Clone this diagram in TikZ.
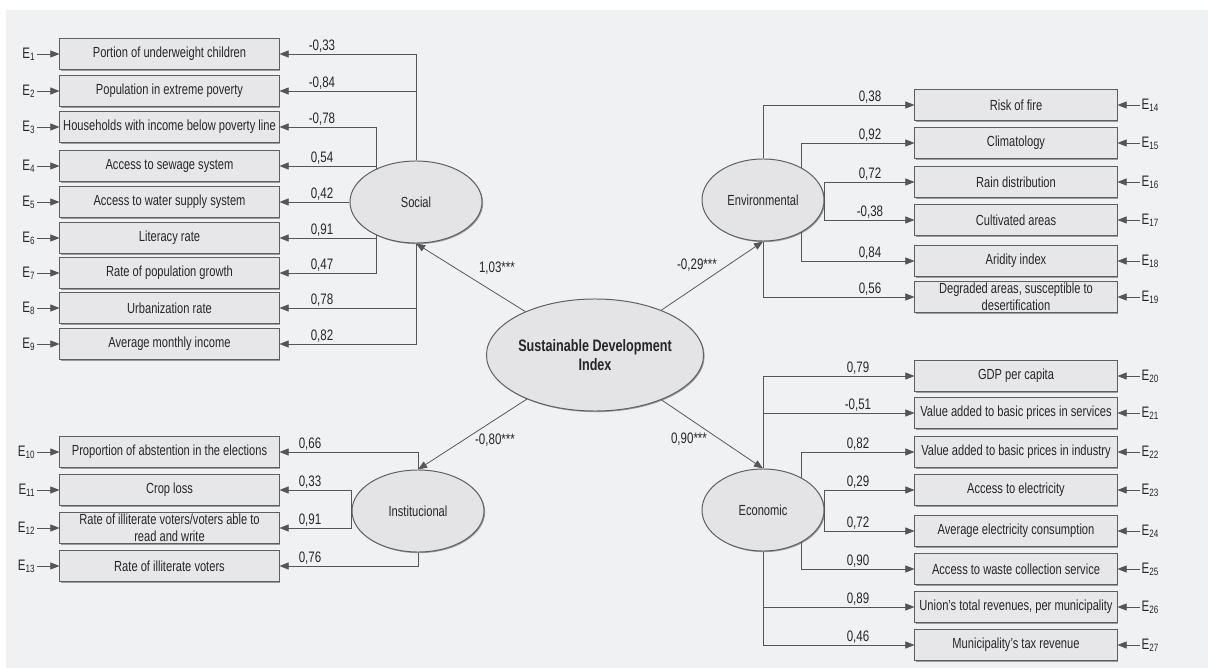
\documentclass[tikz,border=0pt]{standalone}
\usepackage{fontspec}
\setmainfont[FakeStretch=0.76]{Liberation Sans}
\usepackage{xcolor}
\usetikzlibrary{arrows.meta,shapes.geometric,shadows}

\definecolor{panel}{RGB}{240,241,243}
\definecolor{boxfill}{RGB}{231,231,233}
\definecolor{ellfill}{RGB}{228,228,230}
\definecolor{boxline}{RGB}{95,95,97}
\definecolor{linkcol}{RGB}{85,85,87}
\definecolor{ink}{RGB}{38,38,40}

\begin{document}
\begin{tikzpicture}[x=0.025cm, y=-0.025cm,
    >={Triangle[length=6.5pt, width=5pt]},
    indicator/.style={draw=boxline, fill=boxfill, line width=0.7pt, minimum height=0.78cm,
        inner xsep=2pt, inner ysep=0.5pt, align=center, text=ink,
        font=\fontsize{10.4}{12}\selectfont,
        drop shadow={shadow xshift=0.8pt, shadow yshift=-0.8pt, fill=black, opacity=0.35}},
    indL/.style={indicator, minimum width=5.475cm},
    indR/.style={indicator, minimum width=5.05cm},
    factor/.style={ellipse, draw=boxline, fill=ellfill, line width=0.7pt, inner sep=0pt,
        minimum height=2.05cm, text=ink, font=\fontsize{10.4}{12}\selectfont,
        drop shadow={shadow xshift=0.8pt, shadow yshift=-0.8pt, fill=black, opacity=0.35}},
    link/.style={->, draw=linkcol, line width=0.55pt},
    loading/.style={anchor=south, inner sep=1pt, text=ink, font=\fontsize{10.8}{12}\selectfont},
    errL/.style={anchor=east, inner sep=1pt, text=ink, font=\fontsize{10.8}{12}\selectfont},
    errR/.style={anchor=west, inner sep=1pt, text=ink, font=\fontsize{10.8}{12}\selectfont}
]

    % Background
    \useasboundingbox (0,0) rectangle (1208,668);
    \fill[white] (0,0) rectangle (1208,668);
    \fill[panel] (6,10) rectangle (1208,668);

    % Sustainable Development Index
    \node[factor, minimum width=5.33cm, minimum height=2.8cm, align=center,
          font=\fontsize{11.8}{14}\selectfont\bfseries] (sdi) at (595,355) {Sustainable Development\\Index};

    % Latent factors
    \node[factor, minimum width=3.3cm] (social) at (416,202) {Social};
    \node[factor, minimum width=3.3cm] (inst) at (418,511) {Institucional};
    \node[factor, minimum width=3.05cm] (env) at (763,200) {Environmental};
    \node[factor, minimum width=3.05cm] (econ) at (763,510) {Economic};

    % Second order loadings
    \draw[link] (sdi) -- (social.south);
    \draw[link] (sdi) -- (env.south);
    \draw[link] (sdi) -- (inst.north);
    \draw[link] (sdi) -- (econ.north);
    \node[loading, anchor=center] (g1) at (497,268) {1,03***};
    \node[loading, anchor=center] (g2) at (697,265) {-0,29***};
    \node[loading, anchor=center] (g3) at (495,440) {-0,80***};
    \node[loading, anchor=center] (g4) at (689,439) {0,90***};

    % Social indicators
    \node[indL] (b1) at (169.5,54) {Portion of underweight children};
    \node[indL] (b2) at (169.5,91) {Population in extreme poverty};
    \node[indL] (b3) at (169.5,127) {Households with income below poverty line};
    \node[indL] (b4) at (169.5,166) {Access to sewage system};
    \node[indL] (b5) at (169.5,202) {Access to water supply system};
    \node[indL] (b6) at (169.5,238) {Literacy rate};
    \node[indL] (b7) at (169.5,273) {Rate of population growth};
    \node[indL] (b8) at (169.5,308) {Urbanization rate};
    \node[indL] (b9) at (169.5,344) {Average monthly income};

    \draw[link] (social.north) |- (b1.east);
    \draw[link] (social.north) |- (b2.east);
    \draw[link] (social.140) |- (b3.east);
    \draw[link] (social.140) |- (b4.east);
    \draw[link] (social.west) -- (b5.east);
    \draw[link] (social.220) |- (b6.east);
    \draw[link] (social.220) |- (b7.east);
    \draw[link] (social.south) |- (b8.east);
    \draw[link] (social.south) |- (b9.east);

    \node[loading] (w1) at (322,54) {-0,33};
    \node[loading] (w2) at (322,91) {-0,84};
    \node[loading] (w3) at (322,127) {-0,78};
    \node[loading] (w4) at (322,166) {0,54};
    \node[loading] (w5) at (322,202) {0,42};
    \node[loading] (w6) at (322,238) {0,91};
    \node[loading] (w7) at (322,273) {0,47};
    \node[loading] (w8) at (322,308) {0,78};
    \node[loading] (w9) at (322,344) {0,82};

    % Institutional indicators
    \node[indL] (b10) at (169.5,452) {Proportion of abstention in the elections};
    \node[indL] (b11) at (169.5,490) {Crop loss};
    \node[indL] (b12) at (169.5,528) {Rate of illiterate voters/voters able to\\read and write};
    \node[indL] (b13) at (169.5,566) {Rate of illiterate voters};

    \draw[link] (inst.north) |- (b10.east);
    \draw[link] (inst.west) |- (b11.east);
    \draw[link] (inst.west) |- (b12.east);
    \draw[link] (inst.south) |- (b13.east);

    \node[loading] (w10) at (310,452) {0,66};
    \node[loading] (w11) at (310,490) {0,33};
    \node[loading] (w12) at (310,528) {0,91};
    \node[loading] (w13) at (310,566) {0,76};

    % Environmental indicators
    \node[indR] (b14) at (1016,105) {Risk of fire};
    \node[indR] (b15) at (1016,143) {Climatology};
    \node[indR] (b16) at (1016,182) {Rain distribution};
    \node[indR] (b17) at (1016,220) {Cultivated areas};
    \node[indR] (b18) at (1016,261) {Aridity index};
    \node[indR] (b19) at (1016,297) {Degraded areas, susceptible to\\desertification};

    \draw[link] (env.north) |- (b14.west);
    \draw[link] (env.40) |- (b15.west);
    \draw[link] (env.east) |- (b16.west);
    \draw[link] (env.east) |- (b17.west);
    \draw[link] (env.-40) |- (b18.west);
    \draw[link] (env.south) |- (b19.west);

    \node[loading] (w14) at (870,105) {0,38};
    \node[loading] (w15) at (870,143) {0,92};
    \node[loading] (w16) at (870,182) {0,72};
    \node[loading] (w17) at (870,220) {-0,38};
    \node[loading] (w18) at (870,261) {0,84};
    \node[loading] (w19) at (870,297) {0,56};

    % Economic indicators
    \node[indR] (b20) at (1016,376) {GDP per capita};
    \node[indR] (b21) at (1016,413) {Value added to basic prices in services};
    \node[indR] (b22) at (1016,452) {Value added to basic prices in industry};
    \node[indR] (b23) at (1016,490) {Access to electricity};
    \node[indR] (b24) at (1016,531) {Average electricity consumption};
    \node[indR] (b25) at (1016,569) {Access to waste collection service};
    \node[indR] (b26) at (1016,607) {Union's total revenues, per municipality};
    \node[indR] (b27) at (1016,645) {Municipality's tax revenue};

    \draw[link] (econ.north) |- (b20.west);
    \draw[link] (econ.north) |- (b21.west);
    \draw[link] (econ.40) |- (b22.west);
    \draw[link] (econ.east) |- (b23.west);
    \draw[link] (econ.east) |- (b24.west);
    \draw[link] (econ.-40) |- (b25.west);
    \draw[link] (econ.south) |- (b26.west);
    \draw[link] (econ.south) |- (b27.west);

    \node[loading] (w20) at (858,376) {0,79};
    \node[loading] (w21) at (858,413) {-0,51};
    \node[loading] (w22) at (858,452) {0,82};
    \node[loading] (w23) at (858,490) {0,29};
    \node[loading] (w24) at (858,531) {0,72};
    \node[loading] (w25) at (858,569) {0,90};
    \node[loading] (w26) at (858,607) {0,89};
    \node[loading] (w27) at (858,645) {0,46};

    % Error terms, left
    \node[errL] (e1) at (37,54) {E\textsubscript{1}};
    \node[errL] (e2) at (37,91) {E\textsubscript{2}};
    \node[errL] (e3) at (37,127) {E\textsubscript{3}};
    \node[errL] (e4) at (37,166) {E\textsubscript{4}};
    \node[errL] (e5) at (37,202) {E\textsubscript{5}};
    \node[errL] (e6) at (37,238) {E\textsubscript{6}};
    \node[errL] (e7) at (37,273) {E\textsubscript{7}};
    \node[errL] (e8) at (37,308) {E\textsubscript{8}};
    \node[errL] (e9) at (37,344) {E\textsubscript{9}};
    \node[errL] (e10) at (37,452) {E\textsubscript{10}};
    \node[errL] (e11) at (37,490) {E\textsubscript{11}};
    \node[errL] (e12) at (37,528) {E\textsubscript{12}};
    \node[errL] (e13) at (37,566) {E\textsubscript{13}};
    \draw[link] (e1) -- (b1);
    \draw[link] (e2) -- (b2);
    \draw[link] (e3) -- (b3);
    \draw[link] (e4) -- (b4);
    \draw[link] (e5) -- (b5);
    \draw[link] (e6) -- (b6);
    \draw[link] (e7) -- (b7);
    \draw[link] (e8) -- (b8);
    \draw[link] (e9) -- (b9);
    \draw[link] (e10) -- (b10);
    \draw[link] (e11) -- (b11);
    \draw[link] (e12) -- (b12);
    \draw[link] (e13) -- (b13);

    % Error terms, right
    \node[errR] (e14) at (1140,105) {E\textsubscript{14}};
    \node[errR] (e15) at (1140,143) {E\textsubscript{15}};
    \node[errR] (e16) at (1140,182) {E\textsubscript{16}};
    \node[errR] (e17) at (1140,220) {E\textsubscript{17}};
    \node[errR] (e18) at (1140,261) {E\textsubscript{18}};
    \node[errR] (e19) at (1140,297) {E\textsubscript{19}};
    \node[errR] (e20) at (1140,376) {E\textsubscript{20}};
    \node[errR] (e21) at (1140,413) {E\textsubscript{21}};
    \node[errR] (e22) at (1140,452) {E\textsubscript{22}};
    \node[errR] (e23) at (1140,490) {E\textsubscript{23}};
    \node[errR] (e24) at (1140,531) {E\textsubscript{24}};
    \node[errR] (e25) at (1140,569) {E\textsubscript{25}};
    \node[errR] (e26) at (1140,607) {E\textsubscript{26}};
    \node[errR] (e27) at (1140,645) {E\textsubscript{27}};
    \draw[link] (e14) -- (b14);
    \draw[link] (e15) -- (b15);
    \draw[link] (e16) -- (b16);
    \draw[link] (e17) -- (b17);
    \draw[link] (e18) -- (b18);
    \draw[link] (e19) -- (b19);
    \draw[link] (e20) -- (b20);
    \draw[link] (e21) -- (b21);
    \draw[link] (e22) -- (b22);
    \draw[link] (e23) -- (b23);
    \draw[link] (e24) -- (b24);
    \draw[link] (e25) -- (b25);
    \draw[link] (e26) -- (b26);
    \draw[link] (e27) -- (b27);

\end{tikzpicture}
\end{document}
